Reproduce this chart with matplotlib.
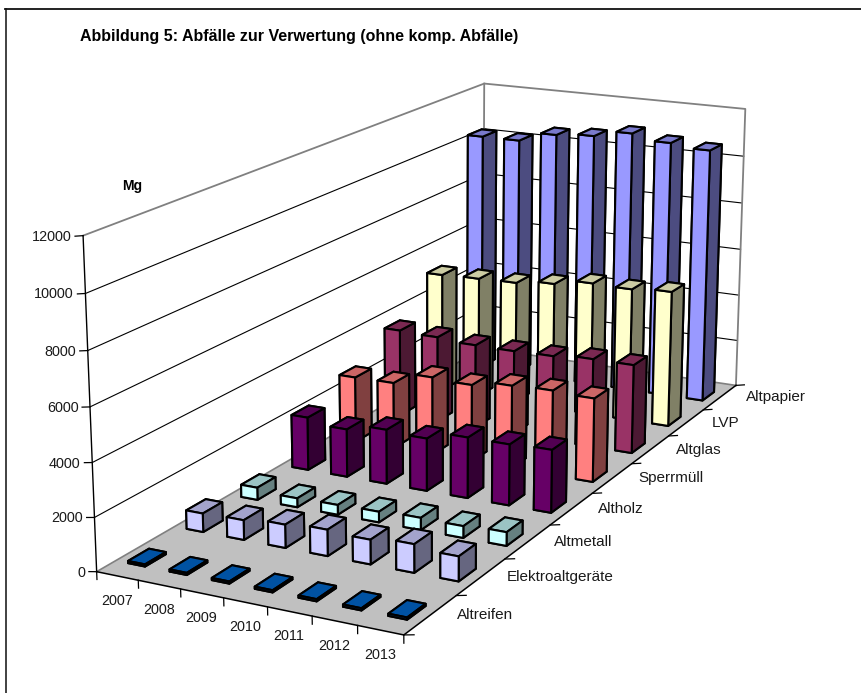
import numpy as np
import matplotlib
matplotlib.use("Agg")
import matplotlib.pyplot as plt
from matplotlib.lines import Line2D
from mpl_toolkits.mplot3d import proj3d
from mpl_toolkits.mplot3d.art3d import Poly3DCollection

plt.rcParams['font.family'] = ['Liberation Sans', 'DejaVu Sans']

years = ['2007', '2008', '2009', '2010', '2011', '2012', '2013']
series_names = ['Altreifen', 'Elektroaltgeräte', 'Altmetall', 'Altholz', 'Sperrmüll', 'Altglas', 'LVP', 'Altpapier']
z_ticks = [0, 2000, 4000, 6000, 8000, 10000, 12000]

altreifen = [80, 80, 80, 80, 80, 80, 80]
elektro = [710, 750, 880, 990, 920, 1060, 920]
altmetall = [480, 350, 380, 410, 470, 450, 520]
altholz = [2120, 1910, 2160, 2080, 2390, 2390, 2450]
sperrmuell = [2680, 2700, 3180, 3120, 3340, 3400, 3340]
altglas = [3630, 3580, 3480, 3470, 3500, 3620, 3620]
lvp = [5070, 5120, 5160, 5330, 5570, 5540, 5650]
altpapier = [10260, 10260, 10670, 10790, 11070, 10840, 10700]
values = [altreifen, elektro, altmetall, altholz, sperrmuell, altglas, lvp, altpapier]

# front, top, side
colors = [
    ('#0066CC', '#0052A3', '#003366'),
    ('#CCCCFF', '#A3A3CC', '#666680'),
    ('#CCFFFF', '#9BC4C4', '#668080'),
    ('#660066', '#520052', '#330033'),
    ('#FF8080', '#CC6666', '#804040'),
    ('#993366', '#7A2952', '#4C1933'),
    ('#FFFFCC', '#CCCCA3', '#808066'),
    ('#9999FF', '#7A7ACC', '#4C4C80'),
]

W, H = 861, 693
fig = plt.figure(figsize=(W / 100, H / 100), dpi=100, facecolor='white')

# camera fitted to the corners of the reference box
scale, cx, cy = 4777.463, 449.784, 373.24
size = 0.185 * scale
ax = fig.add_axes([(cx - 0.095 * scale) / W, (cy - 0.095 * scale) / H, size / W, size / H],
                  projection='3d', computed_zorder=False)
ax.view_init(elev=16.1731, azim=-62.9441, roll=-0.06)
ax.set_proj_type('persp', focal_length=np.exp(-0.6306))
ax.set_box_aspect((1.0043, 2.5107, 1))
ax.set_axis_off()
ax.patch.set_alpha(0)

nx, ny, top = len(years), len(series_names), z_ticks[-1]
ax.set_xlim(0, nx, view_margin=0)
ax.set_ylim(0, ny, view_margin=0)
ax.set_zlim(0, top, view_margin=0)
M = ax.get_proj()


def label(x, y, z, text, dx, dy, ha, size):
    # 2D text so the offset from the box is in plain pixels
    xd, yd, _ = proj3d.proj_transform(x, y, z, M)
    ax.annotate(text, (xd, yd), xytext=(dx, dy), textcoords='offset pixels', ha=ha, va='center',
                fontsize=size, color='#1a1a1a', annotation_clip=False)


# walls and grid
for z in z_ticks[1:-1]:
    ax.plot([0, 0, nx], [0, ny, ny], [z, z, z], color='black', lw=0.8, zorder=1)
ax.plot([0, 0, nx, nx], [0, ny, ny, ny], [top, top, top, 0], color='#808080', lw=1.3, zorder=1.1)
ax.plot([0, 0], [ny, ny], [0, top], color='#808080', lw=1.3, zorder=1.1)

# floor
floor = Poly3DCollection([[(0, 0, 0), (nx, 0, 0), (nx, ny, 0), (0, ny, 0)]],
                         facecolor='#C0C0C0', edgecolor='none', zorder=1.2)
ax.add_collection3d(floor)
ax.plot([0, 0, nx], [0, ny, ny], [0, 0, 0], color='#808080', lw=1.2, zorder=1.3)
ax.plot([0, nx, nx], [0, 0, ny], [0, 0, 0], color='black', lw=1.1, zorder=1.3)
ax.plot([0, 0], [0, 0], [0, top], color='black', lw=1.0, zorder=1.3)

# ticks and labels
for z in z_ticks:
    ax.plot([0, -0.19], [0, 0], [z, z - 57], color='black', lw=0.9, zorder=1.3)
    label(0, 0, z, str(z), -11.5, -1, 'right', 10.4)
for i in range(nx + 1):
    ax.plot([i, i], [0, 0], [0, -290], color='black', lw=0.9, zorder=1.3)
for i, name in enumerate(years):
    label(i + 0.5, 0, 0, name, -0.5, -25, 'center', 10.4)
for j in range(ny + 1):
    ax.plot([nx, nx + 0.22], [j, j], [0, 80], color='black', lw=0.9, zorder=1.3)
for j, name in enumerate(series_names):
    label(nx, j + 0.5, 0, name, 26, 0, 'left', 11)

# bars, painted back to front
bar_w, bar_d = 0.41, 0.35
order = 2
for j in range(ny - 1, -1, -1):
    front, lid, side = colors[j]
    faces = [front, lid, front, front, side, side]
    for i in range(nx):
        ax.bar3d(i + 0.3, j + 0.31, 0, bar_w, bar_d, values[j][i], color=faces, edgecolor='black',
                 linewidth=1.5, shade=False, zorder=order)
        order += 1

ax.set_xlim(0, nx, view_margin=0)
ax.set_ylim(0, ny, view_margin=0)
ax.set_zlim(0, top, view_margin=0)

# frame only shows on the top and left side
fig.add_artist(Line2D([5.5 / W, 5.5 / W], [0, 1 - 8.5 / H], color='#333333', lw=1.3, transform=fig.transFigure))
fig.add_artist(Line2D([5 / W, 1], [1 - 8.5 / H, 1 - 8.5 / H], color='#111111', lw=1.3, transform=fig.transFigure))

fig.text(80 / W, 1 - 36 / H, 'Abbildung 5: Abfälle zur Verwertung (ohne komp. Abfälle)', fontsize=11.55,
         fontweight='bold', va='center', color='black')
fig.text(122 / W, 1 - 186 / H, 'Mg', fontsize=10, fontweight='bold', va='center', color='black')

fig.savefig('out.png', dpi=100)
